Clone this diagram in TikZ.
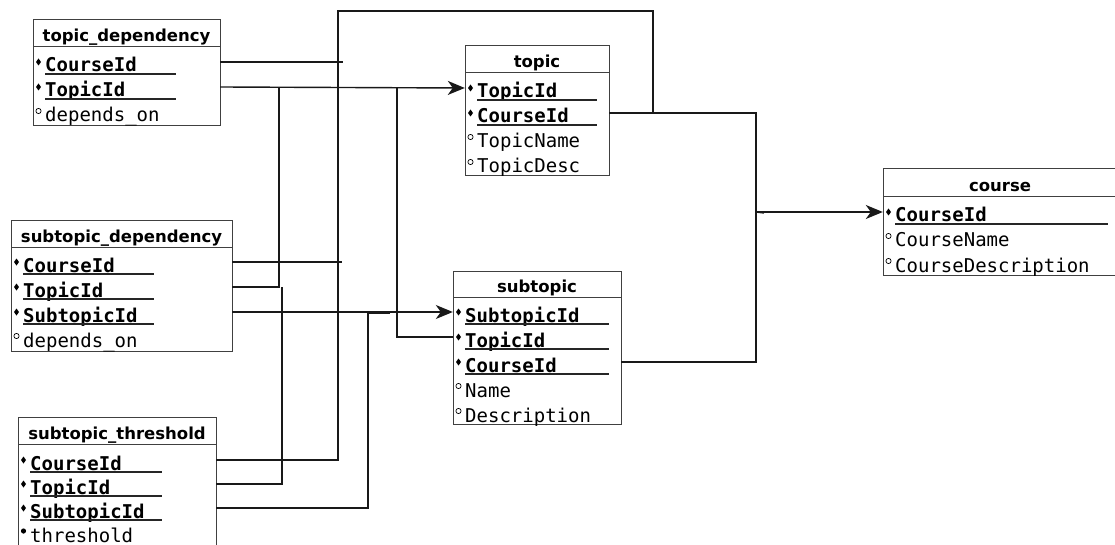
\documentclass[tikz,border=0pt]{standalone}
\usepackage{fontspec}
\usetikzlibrary{arrows.meta}
\newfontfamily\headf{DejaVu Sans}
\newfontfamily\monof{DejaVu Sans Mono}

\tikzset{
  tblframe/.style={draw=black!75, line width=1pt, inner sep=0pt},
  hdr/.style={tblframe, font=\headf\bfseries\fontsize{16.5}{18}\selectfont,
              text height=17pt, text depth=0pt},
  rowbox/.style={inner sep=0pt, minimum height=25pt},
  keytxt/.style={anchor=base west, inner sep=0pt, font=\monof\bfseries\fontsize{19}{22}\selectfont},
  attrtxt/.style={anchor=base west, inner sep=0pt, font=\monof\fontsize{19}{22}\selectfont},
  uline/.style={draw=black!85, line width=1.3pt},
  keymark/.style={fill=black},
  openmark/.style={draw=black, line width=0.7pt},
  link/.style={draw=black!90, line width=1.4pt},
  fkarrow/.style={-{Stealth[length=17pt,width=14pt,inset=5pt]}}
}

% table frame: name, left, top, width, header height, body height, title
\newcommand\dbtable[7]{%
  \node[hdr, minimum width=#4pt, minimum height=#5pt] (#1) at ({#2+#4/2},{#3+#5/2}) {#7};
  \node[tblframe, minimum width=#4pt, minimum height=#6pt] (#1-body) at ({#2+#4/2},{#3+#5+#6/2}) {};
}
% key column: name, left, width, row centre, underline end, field
\newcommand\keyrow[6]{%
  \node[rowbox, minimum width=#3pt] (#1) at ({#2+#3/2},#4) {};
  \fill[keymark] ({#2+3},#4) -- ({#2+5.5},{#4-3.5}) -- ({#2+8},#4) -- ({#2+5.5},{#4+3.5}) -- cycle;
  \node[keytxt] (#1-txt) at ({#2+12},{#4+10}) {#6};
  \draw[uline] ({#2+12},{#4+12}) -- (#5,{#4+12});
}
% ordinary column with open marker: name, left, width, row centre, field
\newcommand\plainrow[5]{%
  \node[rowbox, minimum width=#3pt] (#1) at ({#2+#3/2},#4) {};
  \draw[openmark] ({#2+5.5},{#4-1}) circle [radius=2.6pt];
  \node[attrtxt] (#1-txt) at ({#2+12},{#4+10}) {#5};
}
% required column with filled marker: name, left, width, row centre, field
\newcommand\fullrow[5]{%
  \node[rowbox, minimum width=#3pt] (#1) at ({#2+#3/2},#4) {};
  \fill[keymark] ({#2+5.5},{#4-1}) circle [radius=2.6pt];
  \node[attrtxt] (#1-txt) at ({#2+12},{#4+10}) {#5};
}

\begin{document}
\begin{tikzpicture}[x=1pt,y=-1pt]
\clip (0,0) rectangle (1115,545);
\fill[white] (0,0) rectangle (1115,545);

% ---------- topic_dependency ----------
\dbtable{td}{33}{20}{187}{27}{79}{topic\_dependency}
\keyrow{td-c}{33}{187}{62}{176}{CourseId}
\keyrow{td-t}{33}{187}{87}{176}{TopicId}
\plainrow{td-d}{33}{187}{112}{depends\_on}

% ---------- topic ----------
\dbtable{tp}{465}{46}{144}{27}{103}{topic}
\keyrow{tp-t}{465}{144}{88}{597}{TopicId}
\keyrow{tp-c}{465}{144}{113}{597}{CourseId}
\plainrow{tp-n}{465}{144}{138}{TopicName}
\plainrow{tp-d}{465}{144}{163}{TopicDesc}

% ---------- subtopic ----------
\dbtable{st}{453}{271}{168}{26}{127}{subtopic}
\keyrow{st-s}{453}{168}{312}{609}{SubtopicId}
\keyrow{st-t}{453}{168}{337}{609}{TopicId}
\keyrow{st-c}{453}{168}{362}{609}{CourseId}
\plainrow{st-n}{453}{168}{387}{Name}
\plainrow{st-d}{453}{168}{412}{Description}

% ---------- course ----------
\dbtable{co}{883}{169}{234}{28}{78}{course}
\keyrow{co-c}{883}{234}{212}{1108}{CourseId}
\plainrow{co-n}{883}{234}{237}{CourseName}
\plainrow{co-d}{883}{234}{262}{CourseDescription}

% ---------- subtopic_dependency ----------
\dbtable{sd}{11}{221}{221}{26}{104}{subtopic\_dependency}
\keyrow{sd-c}{11}{221}{262}{154}{CourseId}
\keyrow{sd-t}{11}{221}{287}{154}{TopicId}
\keyrow{sd-s}{11}{221}{312}{154}{SubtopicId}
\plainrow{sd-d}{11}{221}{337}{depends\_on}

% ---------- subtopic_threshold ----------
\dbtable{sth}{18}{417}{198}{27}{108}{subtopic\_threshold}
\keyrow{sth-c}{18}{198}{460}{162}{CourseId}
\keyrow{sth-t}{18}{198}{484}{162}{TopicId}
\keyrow{sth-s}{18}{198}{508}{162}{SubtopicId}
\fullrow{sth-h}{18}{198}{532}{threshold}

% ---------- bus junctions ----------
\coordinate (jA) at (338,11);
\coordinate (jB) at (653,11);
\coordinate (jC) at (756,212);
\coordinate (jT1) at (279,88);
\coordinate (jT2) at (282,287);
\coordinate (jT3) at (397,88);
\coordinate (jS) at (368,313);
\coordinate (tdEnd) at (343,62);
\coordinate (sdEnd) at (342,262);

% CourseId references -> course
\draw[link] (td-c.east) -- (tdEnd);
\draw[link] (sd-c.east) -- (sdEnd);
\draw[link] (sth-c.east) -| (jA) -- (jB) -- (jB |- tp-c.east);
\draw[link] (tp-c.east) -| (jC) |- (st-c.east);
\draw[link] (jC) -- ++(8,1);
\draw[link, fkarrow] (jC) -- (co-c.west);

% TopicId references -> topic
\draw[link, fkarrow] (td-t.east) -- (tp-t.west);
\draw[link] (jT1) |- (sd-t.east);
\draw[link] (jT2) |- (sth-t.east);
\draw[link] (jT3) |- (st-t.west);

% SubtopicId references -> subtopic
\draw[link, fkarrow] (sd-s.east) -- (st-s.west);
\draw[link] ([xshift=22pt]jS) -- (jS) |- (sth-s.east);
\end{tikzpicture}
\end{document}
